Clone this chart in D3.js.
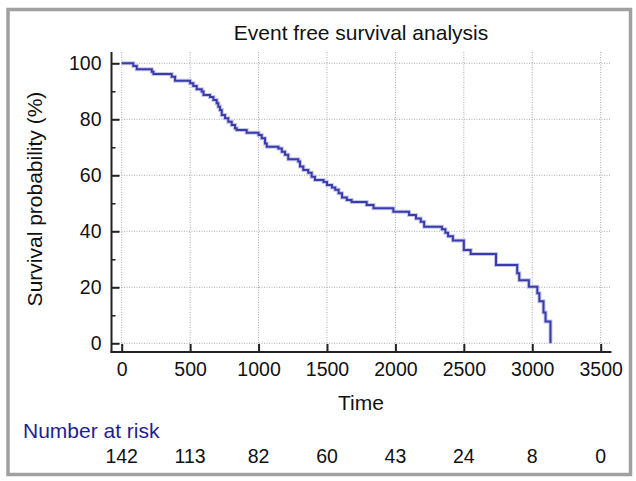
<!DOCTYPE html>
<meta charset="utf-8">
<title>Event free survival</title>
<script src="https://d3js.org/d3.v7.min.js"></script>
<style>
  body { margin: 0; background: #fff; }
  svg text { font-family: "Liberation Sans", Arial, sans-serif; fill: #111; }
</style>
<body>
<div id="chart"></div>
<script>
// Kaplan-Meier steps: time of event, survival (%) after it
var times = [0, 85, 110, 220, 232, 365, 390, 500, 523, 548, 585, 598, 645, 670, 694, 706,
  718, 731, 755, 779, 804, 828, 840, 913, 1000, 1023, 1047, 1060, 1145, 1170, 1193, 1217,
  1290, 1303, 1327, 1363, 1388, 1412, 1475, 1500, 1536, 1560, 1585, 1610, 1645, 1680,
  1790, 1840, 1985, 2100, 2150, 2185, 2210, 2340, 2365, 2385, 2420, 2500, 2550, 2735,
  2890, 2905, 2975, 3037, 3052, 3082, 3097, 3133];
var survival = [100, 99.0, 97.9, 97.0, 96.2, 95.2, 93.8, 92.9, 91.9, 90.7, 89.9, 88.7, 88.0, 86.9, 85.7, 84.5,
  83.3, 81.5, 80.4, 79.1, 78.0, 76.8, 76.2, 75.2, 74.4, 73.2, 71.4, 70.2, 69.6, 68.4, 67.3, 65.7,
  64.9, 63.1, 61.9, 60.9, 59.5, 58.3, 57.6, 56.5, 55.6, 54.8, 53.6, 52.1, 51.2, 50.5,
  49.4, 48.2, 47.0, 45.8, 44.6, 43.4, 41.6, 40.7, 39.5, 38.2, 36.7, 33.3, 31.9, 28.0,
  25.0, 22.5, 20.2, 17.9, 15.0, 11.0, 7.8, 0];

var xTicks = [0, 500, 1000, 1500, 2000, 2500, 3000, 3500];
var yTicks = [0, 20, 40, 60, 80, 100];
var yMinor = [10, 30, 50, 70, 90];
var atRisk = [142, 113, 82, 60, 43, 24, 8, 0];

var W = 636, H = 481;
var svg = d3.select("#chart").append("svg")
  .attr("width", W).attr("height", H);

// outer frame
svg.append("rect")
  .attr("x", 8).attr("y", 9.5)
  .attr("width", 622.5).attr("height", 465)
  .attr("fill", "#fff")
  .attr("stroke", "#a0a0a0")
  .attr("stroke-width", 3.5);

// plot box: axis lines sit a little outside the data range
var box = {left: 111.5, right: 610.5, top: 52, bottom: 352};

var x = d3.scaleLinear().domain([0, 3500]).range([121.7, 600.7]);
var y = d3.scaleLinear().domain([0, 100]).range([343.3, 63.3]);

// grid
var grid = svg.append("g")
  .attr("stroke", "#a8a8a8")
  .attr("stroke-width", 1)
  .attr("stroke-dasharray", "1,1.5");
grid.selectAll(".gx").data(xTicks).enter().append("line")
  .attr("x1", function(d) { return x(d); })
  .attr("x2", function(d) { return x(d); })
  .attr("y1", box.top).attr("y2", box.bottom);
grid.selectAll(".gy").data(yTicks).enter().append("line")
  .attr("y1", function(d) { return y(d); })
  .attr("y2", function(d) { return y(d); })
  .attr("x1", box.left).attr("x2", box.right);

// x axis
var xAxis = svg.append("g")
  .attr("transform", "translate(0," + box.bottom + ")")
  .call(d3.axisBottom(x).tickValues(xTicks).tickFormat(d3.format("d"))
    .tickSizeInner(-8).tickSizeOuter(0).tickPadding(10));
xAxis.select(".domain").remove();
xAxis.selectAll("line").attr("stroke", "#222").attr("stroke-width", 2);
xAxis.selectAll("text").attr("font-size", "19.5px").attr("fill", "#111");

// y axis
var yAxis = svg.append("g")
  .attr("transform", "translate(" + box.left + ",0)")
  .call(d3.axisLeft(y).tickValues(yTicks).tickFormat(d3.format("d"))
    .tickSizeInner(-8).tickSizeOuter(0).tickPadding(10));
yAxis.select(".domain").remove();
yAxis.selectAll("line").attr("stroke", "#222").attr("stroke-width", 2);
yAxis.selectAll("text").attr("font-size", "19.5px").attr("fill", "#111");

var yAxisMinor = svg.append("g")
  .attr("transform", "translate(" + box.left + ",0)")
  .call(d3.axisLeft(y).tickValues(yMinor).tickSizeInner(-4).tickSizeOuter(0).tickFormat(""));
yAxisMinor.select(".domain").remove();
yAxisMinor.selectAll("line").attr("stroke", "#222").attr("stroke-width", 1.5);

// axis lines
svg.append("line")
  .attr("x1", box.left).attr("x2", box.left)
  .attr("y1", box.top).attr("y2", box.bottom + 1)
  .attr("stroke", "#222").attr("stroke-width", 2);
svg.append("line")
  .attr("x1", box.left - 1).attr("x2", box.right + 1)
  .attr("y1", box.bottom).attr("y2", box.bottom)
  .attr("stroke", "#222").attr("stroke-width", 2);

// survival curve
var km = times.map(function(t, i) { return [t, survival[i]]; });
var line = d3.line()
  .x(function(d) { return x(d[0]); })
  .y(function(d) { return y(d[1]); })
  .curve(d3.curveStepAfter);
svg.append("path")
  .datum(km)
  .attr("d", line)
  .attr("fill", "none")
  .attr("stroke", "#c4c6ea")
  .attr("stroke-width", 4);
svg.append("path")
  .datum(km)
  .attr("d", line)
  .attr("fill", "none")
  .attr("stroke", "#3a3caa")
  .attr("stroke-width", 2);

// titles
svg.append("text")
  .attr("x", 361).attr("y", 40)
  .attr("text-anchor", "middle")
  .attr("font-size", "21px")
  .text("Event free survival analysis");

svg.append("text")
  .attr("x", 361).attr("y", 410)
  .attr("text-anchor", "middle")
  .attr("font-size", "21px")
  .text("Time");

svg.append("text")
  .attr("transform", "translate(42,199) rotate(-90)")
  .attr("text-anchor", "middle")
  .attr("font-size", "21px")
  .text("Survival probability (%)");

// number at risk
svg.append("text")
  .attr("x", 23).attr("y", 438)
  .attr("font-size", "21px")
  .style("fill", "#1e1e96")
  .text("Number at risk");

svg.selectAll(".risk").data(atRisk).enter().append("text")
  .attr("class", "risk")
  .attr("x", function(d, i) { return x(xTicks[i]); })
  .attr("y", 463)
  .attr("text-anchor", "middle")
  .attr("font-size", "19.5px")
  .text(function(d) { return d; });
</script>
</body>
